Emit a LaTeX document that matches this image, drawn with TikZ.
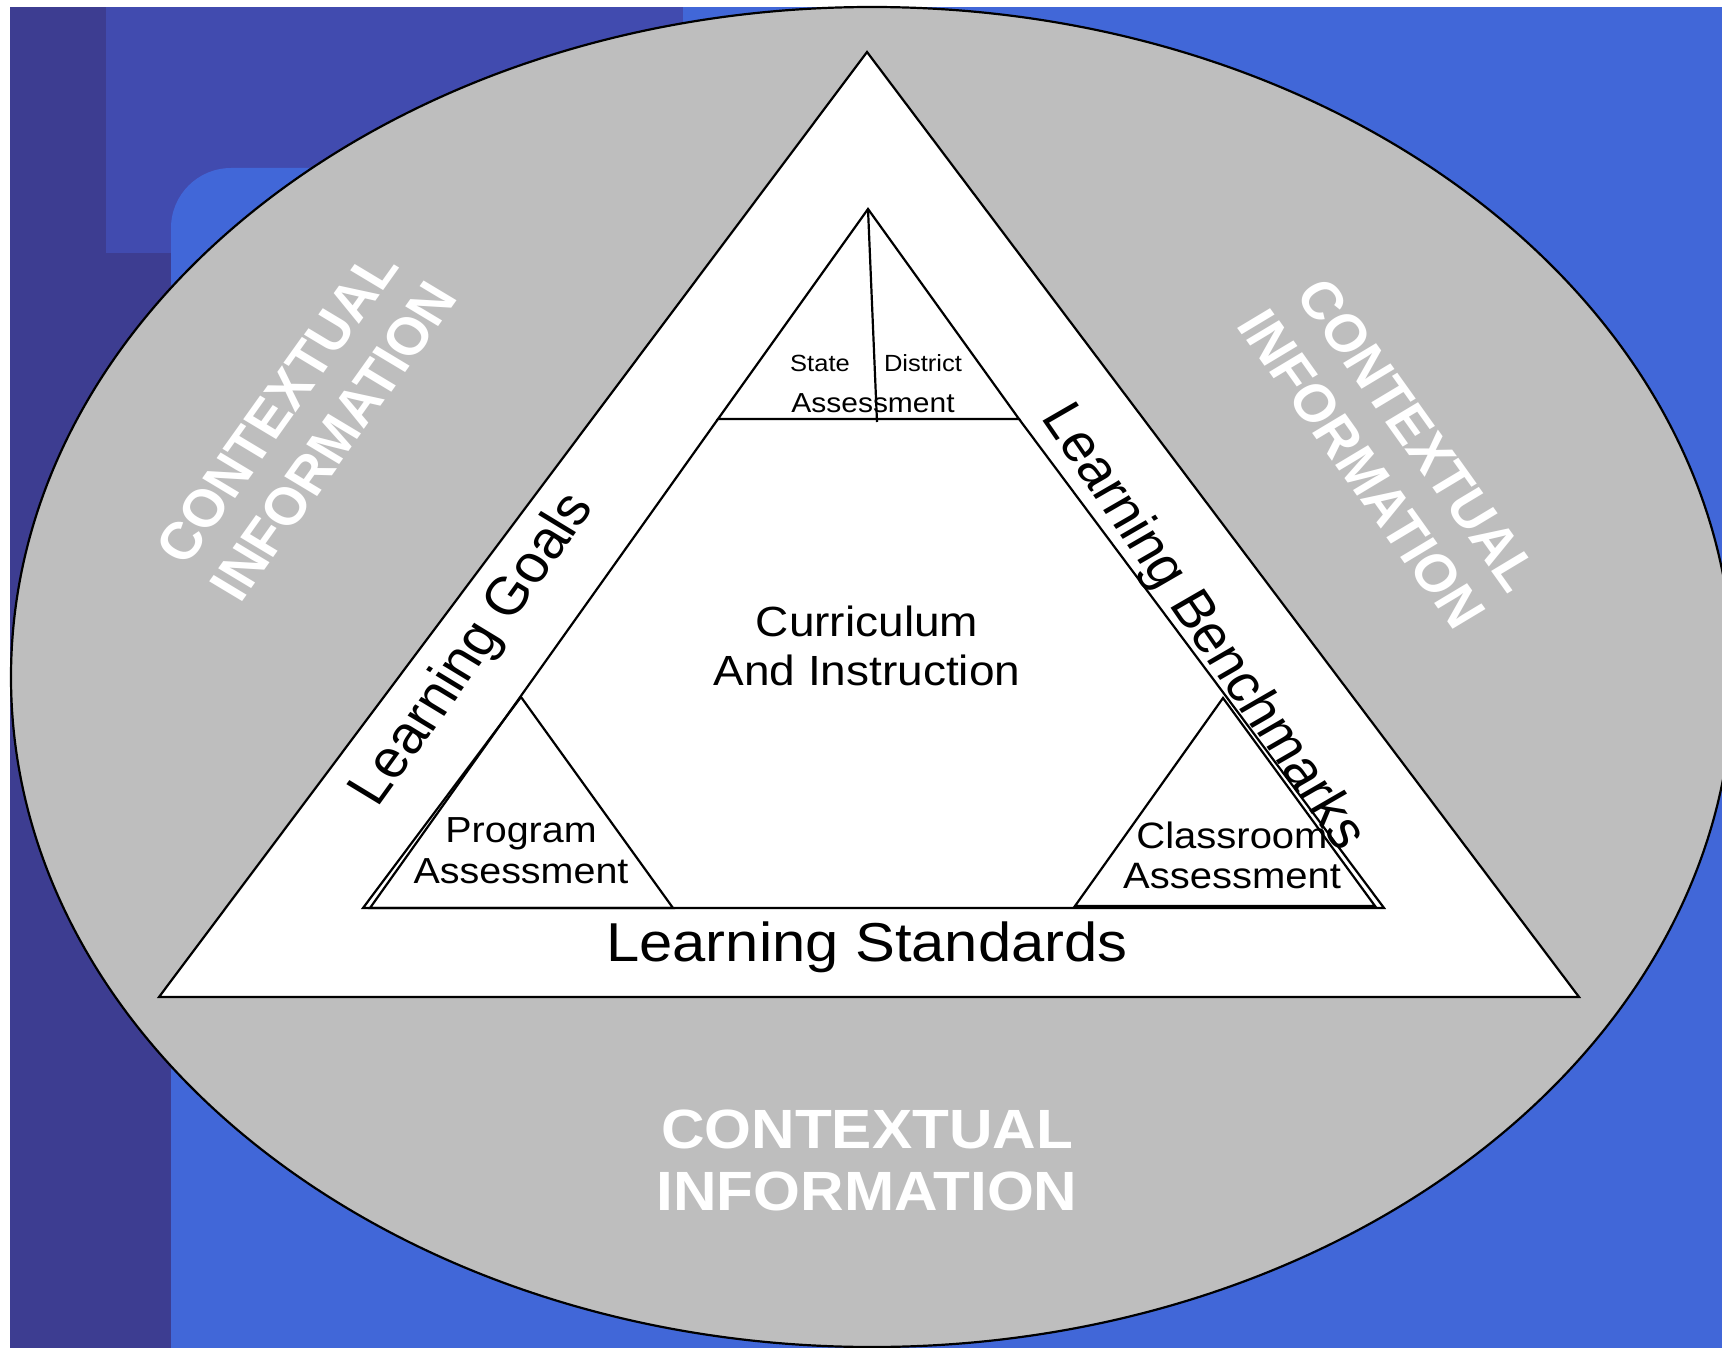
\documentclass[tikz,border=0pt]{standalone}
\usepackage{fontspec}
\setmainfont{Liberation Sans}
\definecolor{bgdark}{HTML}{3D3D91}
\definecolor{bgindigo}{HTML}{414BAF}
\definecolor{bgblue}{HTML}{4167D8}
\definecolor{ellgray}{HTML}{BEBEBE}
\begin{document}
\begin{tikzpicture}[x=1pt,y=-1pt,
  edge/.style={draw=black, line width=2.2pt, line join=miter},
  hstretch/.style={xscale=1.09},
  lbl/.style={inner sep=0pt, align=center, text=black, hstretch},
  ctx/.style={inner sep=0pt, align=center, text=white, hstretch, font=\bfseries\fontsize{52.5}{62}\selectfont},
  ctxb/.style={inner sep=0pt, align=center, text=white, hstretch, font=\bfseries\fontsize{55.3}{62}\selectfont}]
\useasboundingbox (0,0) rectangle (1722,1348);
\clip (0,0) rectangle (1722,1348);
% background
\fill[white] (0,0) rectangle (1722,1348);
\fill[bgdark] (10,7) rectangle (171,1400);
\fill[bgindigo] (106,7) rectangle (683,253);
\fill[bgblue] (683,7) rectangle (1800,1400);
\fill[bgblue, rounded corners=60pt] (171,1500) -- (171,168) -- (1900,168) -- (1900,1500) -- cycle;
% ellipse
\filldraw[fill=ellgray, edge] (872,677) ellipse [x radius=861, y radius=670];
% outer triangle
\coordinate (OA) at (867,52);
\coordinate (OL) at (159,997);
\coordinate (OR) at (1579,997);
\filldraw[fill=white, edge] (OA) -- (OL) -- (OR) -- cycle;
% top small triangle
\coordinate (IA) at (868,209);
\coordinate (TL) at (718,419);
\coordinate (TR) at (1019,419);
\coordinate (TD) at (877,422);
\draw[edge] (IA) -- (TL) -- (TR) -- cycle;
\draw[edge] (IA) -- (TD);
% inner (curriculum) shape below the top triangle
\coordinate (IL) at (370,908);
\coordinate (IR) at (1384,908);
\draw[edge] (TL) -- (IL) -- (IR) -- (TR);
% program triangle
\coordinate (PA) at (521,697);
\coordinate (PL) at (363,908);
\coordinate (PR) at (673,908);
\draw[edge] (PA) -- (PL) -- (PR) -- cycle;
% classroom triangle
\coordinate (CA) at (1223,698);
\coordinate (CL) at (1075,906);
\coordinate (CR) at (1375,906);
\draw[edge] (CA) -- (CL) -- (CR) -- cycle;
% texts
\node[lbl, font=\fontsize{23.4}{26}\selectfont] (state) at (820,363) {State};
\node[lbl, font=\fontsize{23.4}{26}\selectfont] (district) at (923,363) {District};
\node[lbl, font=\fontsize{27.5}{30}\selectfont] (sassess) at (873,403) {Assessment};
\node[lbl, font=\fontsize{42.2}{49}\selectfont] (curr) at (867,646) {Curriculum\\And Instruction};
\node[lbl, font=\fontsize{36.2}{41}\selectfont] (prog) at (521,851) {Program\\Assessment};
\node[lbl, font=\fontsize{36.7}{40}\selectfont] (class) at (1232,855) {Classroom\\Assessment};
\node[lbl, font=\fontsize{54.8}{62}\selectfont] (lstd) at (867,947) {Learning Standards};
\node[lbl, font=\fontsize{53.2}{60}\selectfont, rotate=56.5] (lgoals) at (474,650) {Learning Goals};
\node[lbl, font=\fontsize{52.8}{60}\selectfont, rotate=-57.8] (lbench) at (1202,628) {Learning Benchmarks};
\node[ctx, rotate=56.8] (ctxl) at (305,424) {CONTEXTUAL\\INFORMATION};
\node[ctx, rotate=-56.8] (ctxr) at (1390,452) {CONTEXTUAL\\INFORMATION};
\node[ctxb] (ctxbot) at (867,1160) {CONTEXTUAL\\INFORMATION};
\end{tikzpicture}
\end{document}
